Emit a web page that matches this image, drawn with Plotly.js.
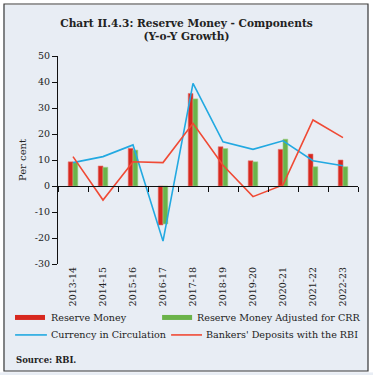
<!DOCTYPE html>
<html>
<head>
<meta charset="utf-8">
<script src="https://cdn.plot.ly/plotly-3.0.1.min.js"></script>
<style>
html,body{margin:0;padding:0;background:#fff;}
#chart{width:373px;height:375px;}
</style>
</head>
<body>
<div id="chart"></div>
<script>
var years = ["2013-14","2014-15","2015-16","2016-17","2017-18","2018-19","2019-20","2020-21","2021-22","2022-23"];
var reserveMoney = [9.3, 7.7, 14.5, -15.0, 35.6, 15.1, 9.7, 14.1, 12.3, 10.0];
var reserveMoneyAdjCRR = [9.0, 7.2, 13.8, -14.6, 33.5, 14.4, 9.3, 18.0, 7.4, 7.4];
var currencyInCirculation = [9.0, 11.3, 15.8, -21.2, 39.5, 17.0, 14.1, 17.4, 9.7, 7.8];
var bankersDeposits = [11.3, -5.4, 9.3, 9.0, 24.1, 8.0, -4.1, 0.4, 25.4, 18.6];
var yTicks = [-30, -20, -10, 0, 10, 20, 30, 40, 50];

var serif = "DejaVu Serif";
var cRed = "#d7281f", cGreen = "#6bb34a", cBlue = "#22a9e1", cOrange = "#f04a35";

var traces = [
  {type:"bar", name:"Reserve Money", x:years, y:reserveMoney, marker:{color:cRed, line:{color:"#e57a74", width:0.6}}, showlegend:false, hoverinfo:"skip"},
  {type:"bar", name:"Reserve Money Adjusted for CRR", x:years, y:reserveMoneyAdjCRR, marker:{color:cGreen, line:{color:"#9fd08a", width:0.6}}, showlegend:false, hoverinfo:"skip"},
  {type:"scatter", mode:"lines", name:"Currency in Circulation", x:years, y:currencyInCirculation, line:{color:cBlue, width:1.6}, showlegend:false, hoverinfo:"skip"},
  {type:"scatter", mode:"lines", name:"Bankers' Deposits with the RBI", x:years, y:bankersDeposits, line:{color:cOrange, width:1.6}, showlegend:false, hoverinfo:"skip"},
  {type:"scatter", mode:"markers", x:years, y:years.map(function(){return null;}), xaxis:"x2", showlegend:false, hoverinfo:"skip"}
];

var bg = "#e8edf4";
var legendFont = {family:serif, size:9.6, color:"#222"};
var layout = {
  width:373, height:375,
  paper_bgcolor:bg, plot_bgcolor:bg,
  margin:{l:58, r:15, t:56, b:111},
  barmode:"group", bargap:0.68, bargroupgap:0,
  title:{text:"<b>Chart II.4.3: Reserve Money - Components<br>(Y-o-Y Growth)</b>", font:{family:serif, size:10.6, color:"#222"},
         x:0.5, xanchor:"center", xref:"container", yref:"container", y:0.929, yanchor:"middle"},
  xaxis:{type:"category", categoryarray:years, range:[-0.5, 9.5], showline:false, ticks:"", showgrid:false, zeroline:false,
         tickangle:-90, tickfont:{family:serif, size:9.5, color:"#222"}, fixedrange:true},
  xaxis2:{type:"category", categoryarray:years, range:[-0.5, 9.5], overlaying:"x", anchor:"free", position:0.375,
          showline:true, linecolor:"#111", linewidth:1, ticks:"outside", ticklen:5, tickcolor:"#111", tickwidth:1,
          tickson:"boundaries", showticklabels:false, showgrid:false, zeroline:false, fixedrange:true},
  yaxis:{range:[-30, 50], tickvals:yTicks, ticktext:yTicks.map(String), showline:true, linecolor:"#111", linewidth:1,
         ticks:"outside", ticklen:5, tickcolor:"#111", showgrid:false, zeroline:false,
         tickfont:{family:serif, size:9.5, color:"#222"},
         title:{text:"Per cent", font:{family:serif, size:10, color:"#222"}, standoff:6}, fixedrange:true},
  shapes:[
    {type:"rect", xref:"paper", yref:"paper", x0:-0.2, x1:1.05, y0:1.2452, y1:1.3, line:{width:0}, fillcolor:"#ffffff"},
    {type:"rect", xref:"paper", yref:"paper", x0:-0.2, x1:1.05, y0:-0.52, y1:-0.5164, line:{width:0}, fillcolor:"#ffffff"},
    {type:"rect", xref:"paper", yref:"paper", x0:-0.2, x1:-0.1825, y0:-0.52, y1:1.3, line:{width:0}, fillcolor:"#ffffff"},
    {type:"rect", xref:"paper", yref:"paper", x0:1.0357, x1:1.05, y0:-0.52, y1:1.3, line:{width:0}, fillcolor:"#ffffff"},
    {type:"rect", xref:"paper", yref:"paper", x0:-0.18, x1:1.0333, y0:-0.5144, y1:1.25, line:{color:"#3a3a3a", width:1.2}},
    {type:"rect", xref:"paper", yref:"paper", x0:-0.1433, x1:-0.0433, y0:-0.269, y1:-0.245, line:{width:0}, fillcolor:cRed},
    {type:"rect", xref:"paper", yref:"paper", x0:0.347, x1:0.447, y0:-0.269, y1:-0.245, line:{width:0}, fillcolor:cGreen},
    {type:"line", xref:"paper", yref:"paper", x0:-0.143, x1:-0.037, y0:-0.341, y1:-0.341, line:{color:cBlue, width:1.6}},
    {type:"line", xref:"paper", yref:"paper", x0:0.377, x1:0.48, y0:-0.341, y1:-0.341, line:{color:cOrange, width:1.6}}
  ],
  annotations:[
    {text:"Reserve Money", xref:"paper", yref:"paper", x:-0.03, y:-0.256, xanchor:"left", yanchor:"middle", showarrow:false, font:legendFont},
    {text:"Reserve Money Adjusted for CRR", xref:"paper", yref:"paper", x:0.455, y:-0.256, xanchor:"left", yanchor:"middle", showarrow:false, font:legendFont},
    {text:"Currency in Circulation", xref:"paper", yref:"paper", x:-0.03, y:-0.341, xanchor:"left", yanchor:"middle", showarrow:false, font:legendFont},
    {text:"Bankers' Deposits with the RBI", xref:"paper", yref:"paper", x:0.485, y:-0.341, xanchor:"left", yanchor:"middle", showarrow:false, font:legendFont},
    {text:"<b>Source: RBI.</b>", xref:"paper", yref:"paper", x:-0.147, y:-0.4615, xanchor:"left", yanchor:"middle", showarrow:false, font:{family:serif, size:8.5, color:"#222"}}
  ]
};

Plotly.newPlot("chart", traces, layout, {displayModeBar:false, staticPlot:true});
</script>
</body>
</html>
